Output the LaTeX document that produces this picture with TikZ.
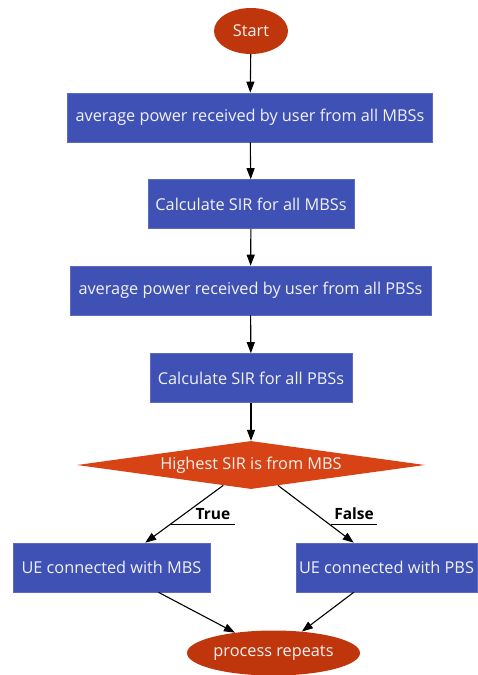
\documentclass[tikz,border=0pt]{standalone}
\usepackage{fontspec}
\setmainfont{Open Sans}
\usetikzlibrary{shapes.geometric,arrows.meta}
\definecolor{boxblue}{HTML}{3F51B5}
\definecolor{boxedge}{HTML}{5C6BC0}
\definecolor{termred}{HTML}{BF360C}
\definecolor{decorange}{HTML}{D84315}
\definecolor{txt}{HTML}{F2F2F2}
\tikzset{
  procbox/.style={rectangle, fill=boxblue, draw=boxedge, line width=0.6pt, text=txt, font=\fontsize{16.3}{19}\selectfont, inner sep=0pt, minimum height=49pt},
  term/.style={ellipse, fill=termred, draw=none, text=txt, font=\fontsize{16.3}{19}\selectfont, inner sep=0pt},
  decision/.style={diamond, fill=decorange, draw=none, text=txt, font=\fontsize{16.3}{19}\selectfont, inner sep=0pt, shape aspect=7.25, minimum width=348pt, minimum height=48pt},
  flow/.style={draw=black, line width=1.1pt, -{Triangle[length=11pt,width=8pt]}},
  elabel/.style={font=\bfseries\fontsize{15.5}{18}\selectfont, text=black, inner sep=0pt},
}
\begin{document}
\begin{tikzpicture}[x=1pt,y=-1pt]
\useasboundingbox (0,0) rectangle (478,675);
\node[term, minimum width=74pt, minimum height=46pt] (start) at (251,31) {Start};
\node[procbox, minimum width=365pt] (b1) at (250,117.5) {average power received by user from all MBSs};
\node[procbox, minimum width=206pt] (b2) at (251,204) {Calculate SIR for all MBSs};
\node[procbox, minimum width=361pt] (b3) at (250.5,290.5) {average power received by user from all PBSs};
\node[procbox, minimum width=202pt] (b4) at (251,378) {Calculate SIR for all PBSs};
\node[decision] (dec) at (251,465) {Highest SIR is from MBS};
\node[procbox, minimum width=197pt] (ml) at (111.5,567.5) {UE connected with MBS};
\node[procbox, minimum width=181pt] (pr) at (386.5,567.5) {UE connected with PBS};
\node[term, minimum width=173pt, minimum height=45pt] (rep) at (273.5,653) {process repeats};
\draw[flow] (start) -- (b1);
\draw[flow] (b1) -- (b2);
\draw[flow] (b2) -- (b3);
\draw[flow] (b3) -- (b4);
\draw[flow] (b4) -- (dec);
\draw[flow] (dec) -- (ml);
\draw[flow] (dec) -- (pr);
\draw[flow] (ml) -- (rep);
\draw[flow] (pr) -- (rep);
\node[elabel] (tl) at (213,514) {True};
\node[elabel] (fl) at (354,514) {False};
\coordinate (tu) at (171,524.5);
\coordinate (fu) at (331,524.5);
\draw[line width=0.9pt] (tu) -- (tu -| 235,0);
\draw[line width=0.9pt] (fu) -- (fu -| 377,0);
\end{tikzpicture}
\end{document}
